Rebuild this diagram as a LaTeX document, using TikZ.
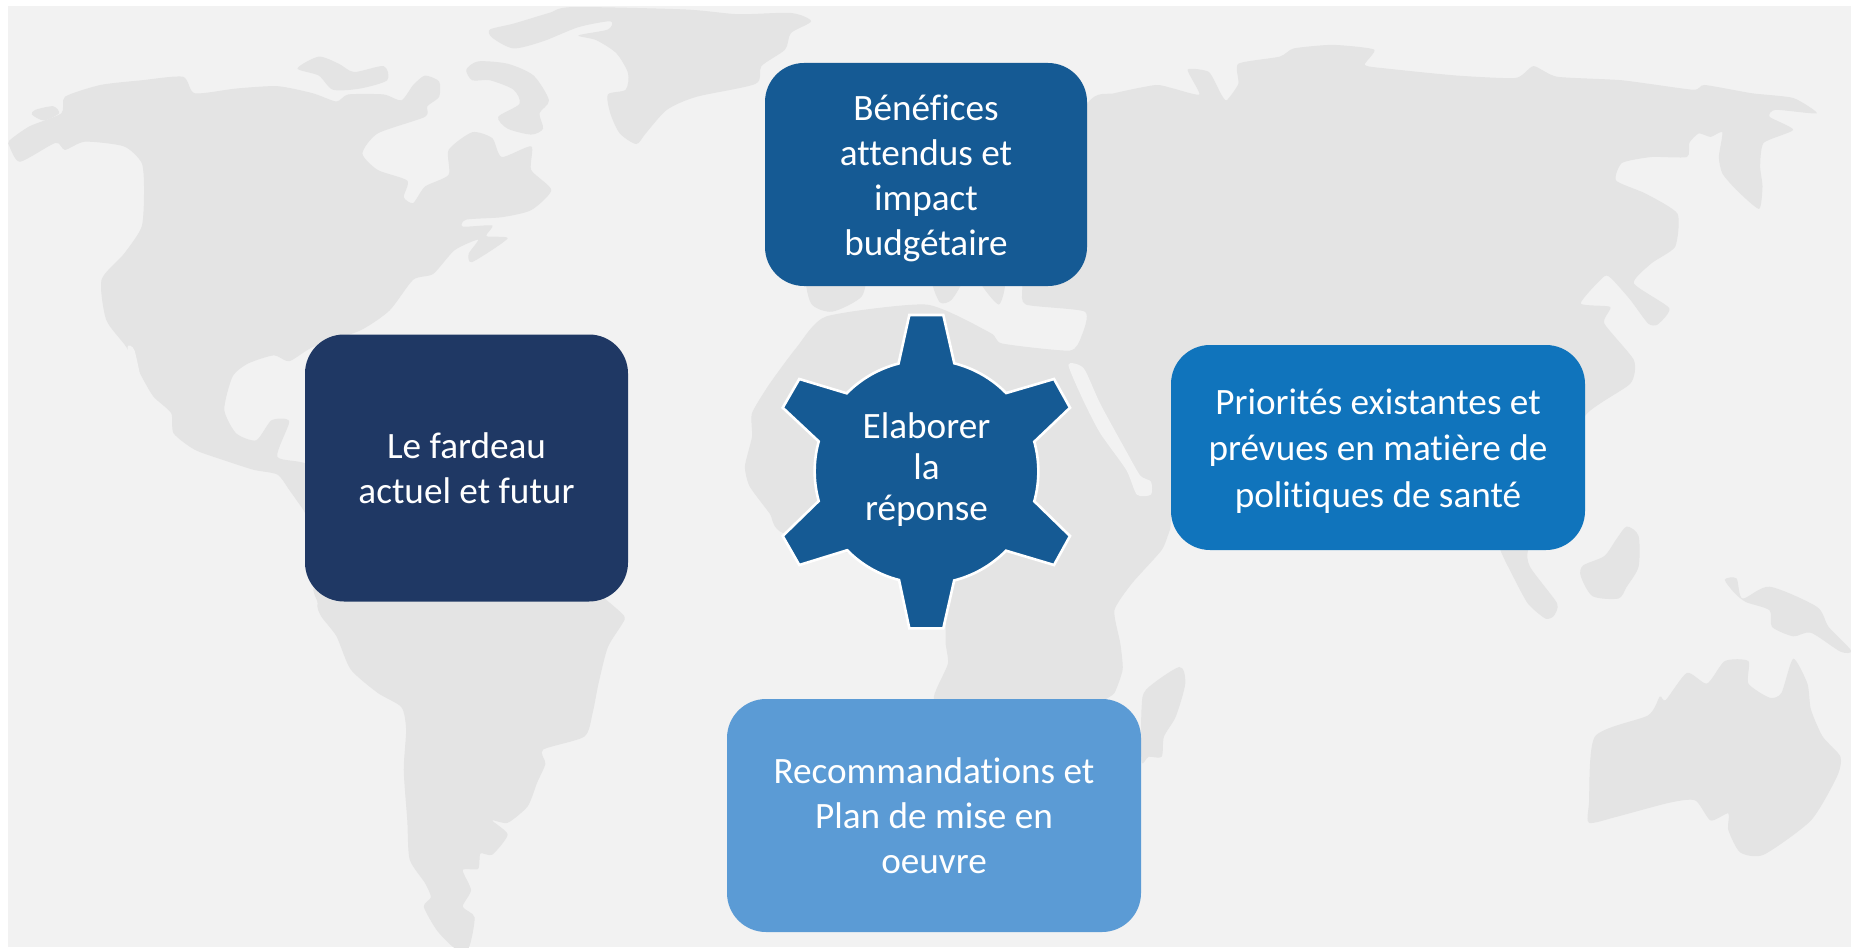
\documentclass[tikz,border=0pt]{standalone}
\usepackage{fontspec}
\setmainfont[Ligatures=NoCommon]{Carlito}
\definecolor{bgc}{HTML}{F2F2F2}
\definecolor{landc}{HTML}{E4E4E4}
\definecolor{topc}{HTML}{155A94}
\definecolor{leftc}{HTML}{1F3864}
\definecolor{rightc}{HTML}{1074BC}
\definecolor{botc}{HTML}{5B9BD5}
\tikzset{
  land/.style={fill=landc,draw=none},
  sea/.style={fill=bgc,draw=none},
  boxn/.style={rounded corners=19.5pt,inner sep=0pt,text=white,align=center,
     font=\fontsize{18.6}{22.5}\selectfont},
  gearlabel/.style={inner sep=0pt,text=white,align=center,
     font=\fontsize{18.6}{20.5}\selectfont},
  geartooth/.style={fill=topc,draw=white,line width=1.3pt,line join=miter}
}
\begin{document}
\begin{tikzpicture}[x=0.5pt,y=-0.5pt]
\useasboundingbox (0,0) rectangle (1851,947);
\fill[white] (0,0) rectangle (1851,947);
\fill[bgc] (8,6) rectangle (1851,947);
\begin{scope}[x=0.59025pt,y=-0.59025pt]
% Greenland
\fill[land] plot[smooth cycle,tension=.45] coordinates {(415,25)(435,20)(465,11)(485,6)(580,8)(625,12)(670,11)(687,18)(670,28)(665,42)(645,56)(640,71)(590,82)(565,93)(547,113)(539,122)(525,113)(517,96)(515,80)(530,76)(532,62)(522,45)(505,34)(490,30)(515,25)(517,18)(490,23)(460,35)(435,41)(417,32)};
% Arctic islands
\fill[land] plot[smooth cycle,tension=.45] coordinates {(252,58)(270,48)(287,54)(300,61)(325,56)(328,68)(305,75)(282,76)(270,64)};
\fill[land] plot[smooth cycle,tension=.45] coordinates {(395,59)(405,52)(430,54)(452,64)(465,85)(457,96)(460,109)(450,114)(430,109)(422,99)(440,88)(435,76)(415,68)(400,68)};
\fill[land] plot[smooth cycle,tension=.45] coordinates {(30,93)(45,90)(50,96)(37,102)(27,97)};
% North America
\fill[land] plot[smooth cycle,tension=.4] coordinates {(8,119)(25,107)(52,96)(55,82)(85,72)(120,68)(155,65)(165,79)(200,75)(235,73)(265,79)(285,86)(295,80)(325,80)(340,85)(350,72)(360,64)(372,69)(372,82)(362,90)(360,99)(320,113)(307,130)(320,144)(345,153)(342,167)(350,172)(360,158)(380,148)(380,127)(400,112)(417,117)(425,133)(450,124)(450,144)(467,161)(450,178)(425,184)(395,186)(392,192)(417,191)(412,200)(430,202)(400,222)(397,215)(405,203)(385,212)(367,232)(350,237)(330,263)(305,280)(265,294)(245,306)(232,301)(210,308)(197,319)(190,347)(200,367)(217,373)(230,356)(245,357)(235,387)(262,395)(262,440)(257,432)(245,415)(235,402)(215,398)(190,390)(165,381)(147,367)(145,350)(130,336)(120,319)(107,294)(90,271)(86,237)(105,215)(120,192)(122,161)(120,138)(105,124)(72,120)(55,127)(47,121)(17,137)(8,124)};
\fill[sea] plot[smooth cycle,tension=.4] coordinates {(108,294)(114,297)(122,336)(113,318)};
% South America
\fill[land] plot[smooth cycle,tension=.4] coordinates {(280,490)(269,511)(272,522)(285,539)(297,567)(320,587)(340,599)(344,618)(342,652)(345,695)(347,728)(360,748)(365,760)(359,768)(370,788)(385,803)(397,803)(402,777)(392,768)(399,754)(392,737)(405,736)(407,723)(417,724)(430,707)(417,695)(430,697)(447,683)(455,663)(462,647)(460,635)(495,624)(502,604)(507,579)(515,548)(529,525)(525,518)(510,505)(495,490)};
% Eurasia and Africa
\fill[land] plot[smooth cycle,tension=.35] coordinates {(921,88)(944,79)(979,72)(994,75)(1016,80)(1006,59)(1024,61)(1034,79)(1039,85)(1049,71)(1049,54)(1084,48)(1096,41)(1129,38)(1164,42)(1156,55)(1174,58)(1234,64)(1284,66)(1299,56)(1319,65)(1374,68)(1434,76)(1444,72)(1484,79)(1519,83)(1539,96)(1504,93)(1499,99)(1519,110)(1494,121)(1491,141)(1493,158)(1490,177)(1471,161)(1459,147)(1456,133)(1459,112)(1449,116)(1439,113)(1431,121)(1429,133)(1399,133)(1374,138)(1369,153)(1394,164)(1421,181)(1419,209)(1399,223)(1384,240)(1414,261)(1404,275)(1396,274)(1381,254)(1366,237)(1359,234)(1339,257)(1364,260)(1359,274)(1384,305)(1381,325)(1343,352)(1335,400)(1296,462)(1296,480)(1319,511)(1316,522)(1309,524)(1294,511)(1279,483)(1271,466)(1265,440)(1100,430)(1000,430)(991,449)(984,466)(959,494)(944,517)(949,545)(951,567)(944,587)(934,594)(900,620)(800,620)(791,593)(794,582)(803,562)(801,545)(801,533)(800,490)(760,480)(664,452)(652,435)(635,412)(631,395)(637,370)(637,350)(652,325)(675,294)(700,268)(785,258)(839,282)(849,291)(906,297)(916,285)(919,264)(869,258)(866,243)(866,200)};
\fill[land] plot[smooth cycle,tension=.45] coordinates {(685,230)(687,257)(705,264)(730,251)(730,230)};
\fill[land] plot[smooth cycle,tension=.45] coordinates {(790,236)(796,256)(806,254)(815,236)};
\fill[land] plot[smooth cycle,tension=.45] coordinates {(829,236)(846,258)(851,236)};
% Red Sea
\fill[sea] plot[smooth cycle,tension=.4] coordinates {(905,309)(918,312)(932,342)(955,384)(966,403)(975,408)(975,419)(963,419)(954,398)(932,367)(918,340)};
% Madagascar
\fill[land] plot[smooth cycle,tension=.45] coordinates {(971,584)(999,565)(1004,579)(996,607)(986,624)(984,641)(973,641)(967,645)(967,600)};
% Borneo
\fill[land] plot[smooth cycle,tension=.45] coordinates {(1378,446)(1388,454)(1388,480)(1378,497)(1371,507)(1349,505)(1339,488)(1341,479)(1359,471)(1369,457)};
% New Guinea
\fill[land] plot[smooth cycle,tension=.45] coordinates {(1461,491)(1471,490)(1476,507)(1499,497)(1539,514)(1549,531)(1568,551)(1559,552)(1534,536)(1519,539)(1501,531)(1499,517)(1479,510)(1469,502)};
% Australia
\fill[land] plot[smooth cycle,tension=.4] coordinates {(1351,624)(1396,606)(1406,590)(1411,593)(1429,570)(1446,579)(1461,560)(1481,560)(1481,579)(1499,591)(1509,587)(1519,558)(1531,579)(1534,601)(1544,624)(1559,641)(1556,658)(1534,695)(1494,724)(1474,722)(1464,703)(1464,689)(1449,695)(1436,678)(1414,680)(1369,692)(1346,697)(1346,680)};
\end{scope}

\node[boxn,fill=topc,minimum width=161pt,minimum height=111.5pt] (benefices) at (926,174.5) {};
\node[boxn] (beneficestext) at (926,178.5) {Bénéfices\\attendus et\\impact\\budgétaire};
\node[boxn,fill=leftc,minimum width=161.5pt,minimum height=133.5pt] (fardeau) at (466.5,468) {Le fardeau\\actuel et futur};
\node[boxn,fill=rightc,minimum width=207pt,minimum height=102.5pt] (priorites) at (1378,447.5) {};
\node[boxn,font=\fontsize{18.6}{23.3}\selectfont] (prioritestext) at (1378,451) {Priorités existantes et\\prévues en matière de\\politiques de santé};
\node[boxn,fill=botc,minimum width=207pt,minimum height=116.5pt] (recos) at (934,815.5) {Recommandations et\\Plan de mise en\\oeuvre};

\draw[geartooth] (909.3,315) -- (943.3,315) -- (954.3,363.3)
  arc[start angle=-75.7,end angle=-44.6,radius=111.5] -- (1054,379) -- (1070,407.7) -- (1034.3,441.7)
  arc[start angle=-15.5,end angle=15.5,radius=111.5] -- (1070,536) -- (1054,565) -- (1006,550.7)
  arc[start angle=44.6,end angle=75.7,radius=111.5] -- (943.3,628.3) -- (909.3,628.3) -- (899,580)
  arc[start angle=104.3,end angle=135.4,radius=111.5] -- (799.3,565) -- (782.7,536) -- (818.7,501)
  arc[start angle=164.5,end angle=195.5,radius=111.5] -- (782.7,407.7) -- (799.3,379) -- (846.7,393.3)
  arc[start angle=224.6,end angle=255.7,radius=111.5] -- cycle;
\node[gearlabel] (elaborer) at (926.5,469.5) {Elaborer\\la\\réponse};
\end{tikzpicture}
\end{document}
